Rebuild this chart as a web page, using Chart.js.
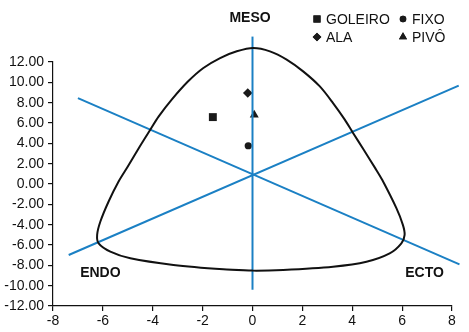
<!DOCTYPE html>
<html>
<head>
<meta charset="utf-8">
<script src="https://cdn.jsdelivr.net/npm/chart.js@4/dist/chart.umd.min.js"></script>
<style>
  html, body { margin: 0; padding: 0; background: #fff; }
  #wrap { width: 469px; height: 332px; }
</style>
</head>
<body>
<div id="wrap"><canvas id="js--chart"></canvas></div>
<script>
// somatochart outline (counter-clockwise from bottom centre)
const curveX = [0, -1.17, -3.17, -4.9, -5.7, -6.17, -6.23, -6.1, -5.77, -5.37, -5.0, -4.52, -4.1, -3.76, -3.24, -2.58, -1.97, -1.3, -0.63, 0.03,
                0.7, 1.37, 2.03, 2.7, 3.23, 3.7, 4.02, 4.46, 4.92, 5.2, 5.77, 6.03, 6.1, 5.97, 5.5, 4.57, 3.23, 1.23, 0, -1.17];
const curveY = [-8.52, -8.39, -7.96, -7.31, -6.65, -5.83, -5.0, -3.69, -1.72, 0.25, 1.72, 3.69, 5.34, 6.65, 8.3, 10.1, 11.41, 12.39, 13.05, 13.38,
                13.05, 12.24, 11.08, 9.6, 7.96, 6.33, 5.07, 3.37, 1.56, 0.41, -2.38, -4.02, -5.0, -5.83, -6.82, -7.64, -8.13, -8.45, -8.52, -8.39];

// the three axis lines
const mesoX = [0, 0];
const mesoY = [-10.4, 14.5];
const endoLineX = [-7.37, 8.27];
const endoLineY = [-6.98, 9.67];
const ectoLineX = [-7.0, 8.3];
const ectoLineY = [8.45, -7.9];

// groups
const groups = ["GOLEIRO", "FIXO", "ALA", "PIVÔ"];
const groupX = [-1.59, -0.17, -0.19, 0.07];
const groupY = [6.58, 3.76, 8.95, 6.8];
const groupShapes = ["rect", "circle", "rectRot", "triangle"];
const groupSizes = [5.6, 3.6, 4.8, 5.2];

const xTicks = [-8, 8, 2];
const yTicks = [-12, 12, 2];

const blue = "#1b80c4";
const font = "Liberation Sans, Arial, sans-serif";

function pts(xs, ys) {
    return xs.map(function (x, i) { return { x: x, y: ys[i] }; });
}

const datasets = [
    { data: pts(curveX, curveY), showLine: true, borderColor: "#111", borderWidth: 2, pointRadius: 0, tension: 0.3, clip: false },
    { data: pts(mesoX, mesoY), showLine: true, borderColor: blue, borderWidth: 2, pointRadius: 0, clip: false },
    { data: pts(endoLineX, endoLineY), showLine: true, borderColor: blue, borderWidth: 2, pointRadius: 0, clip: false },
    { data: pts(ectoLineX, ectoLineY), showLine: true, borderColor: blue, borderWidth: 2, pointRadius: 0, clip: false }
];
groups.forEach(function (g, i) {
    datasets.push({
        label: g,
        data: [{ x: groupX[i], y: groupY[i] }],
        pointStyle: groupShapes[i],
        pointRadius: groupSizes[i],
        backgroundColor: "#1a1a1a",
        borderColor: "#1a1a1a",
        borderWidth: 0,
        clip: false
    });
});

// labels and legend drawn on canvas
const labelsPlugin = {
    id: "somaLabels",
    afterDatasetsDraw: function (chart) {
        const ctx = chart.ctx;
        const sx = chart.scales.x, sy = chart.scales.y;
        ctx.save();
        ctx.fillStyle = "#111";
        ctx.textBaseline = "middle";
        ctx.font = "bold 14px " + font;
        ctx.textAlign = "center";
        ctx.fillText("MESO", sx.getPixelForValue(-0.1), 18);
        ctx.fillText("ENDO", sx.getPixelForValue(-6.1), sy.getPixelForValue(-8.8));
        ctx.fillText("ECTO", sx.getPixelForValue(6.9), sy.getPixelForValue(-8.8));

        // legend: 2 x 2
        const pos = [[317, 19], [403, 19], [317, 37], [403, 37]];
        ctx.font = "14px " + font;
        ctx.textAlign = "left";
        groups.forEach(function (g, i) {
            Chart.helpers.drawPoint(ctx, {
                pointStyle: groupShapes[i],
                radius: groupSizes[i] * 0.9,
                borderWidth: 0
            }, pos[i][0], pos[i][1]);
            ctx.fillStyle = "#1a1a1a";
            ctx.fill();
            ctx.fillStyle = "#111";
            ctx.fillText(g, pos[i][0] + 9, pos[i][1] + 1);
        });
        ctx.restore();
    }
};

new Chart(document.getElementById("js--chart"), {
    type: "scatter",
    data: { datasets: datasets },
    plugins: [labelsPlugin],
    options: {
        responsive: true,
        maintainAspectRatio: false,
        animation: false,
        layout: { padding: { top: 62, right: 17, left: 0, bottom: 0 } },
        plugins: { legend: { display: false }, tooltip: { enabled: false } },
        scales: {
            x: {
                min: xTicks[0], max: xTicks[1],
                ticks: { stepSize: xTicks[2], color: "#111", font: { family: font, size: 14 }, padding: 2, maxRotation: 0 },
                grid: { drawOnChartArea: false, drawTicks: true, tickLength: 5, color: "#111", lineWidth: 1.2 },
                border: { color: "#111", width: 1.2 },
                afterFit: function (s) { s.height = 26; }
            },
            y: {
                min: yTicks[0], max: yTicks[1],
                ticks: {
                    stepSize: yTicks[2], color: "#111", font: { family: font, size: 14 }, padding: 4,
                    callback: function (v) { return v.toFixed(2); }
                },
                grid: { drawOnChartArea: false, drawTicks: true, tickLength: 5, color: "#111", lineWidth: 1.2 },
                border: { color: "#111", width: 1.2 },
                afterFit: function (s) { s.width = 53; }
            }
        }
    }
});
</script>
</body>
</html>
